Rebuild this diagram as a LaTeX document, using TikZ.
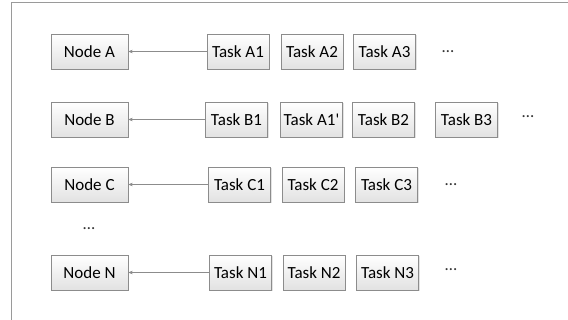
\documentclass[tikz,border=0pt]{standalone}
\usepackage{fontspec}
\setmainfont{Carlito}
\usetikzlibrary{arrows.meta,shadows}

\definecolor{boxline}{HTML}{8C8C8C}
\definecolor{boxbot}{HTML}{E2E2E2}
\definecolor{frameline}{HTML}{9A9A9A}

\begin{document}
\begin{tikzpicture}[
  x=1pt, y=-1pt,
  every node/.style={font=\fontsize{17}{19}\selectfont},
  % grey gradient boxes with a faint shadow
  box/.style={draw=boxline, top color=white, bottom color=boxbot,
    minimum height=35pt, inner sep=2.5pt,
    drop shadow={shadow xshift=1.2pt, shadow yshift=-1.2pt, fill=black!22}},
  nodebox/.style={box, minimum width=77pt},
  taskbox/.style={box, minimum width=62pt},
  more/.style={inner sep=0pt, text=black!80},
  link/.style={draw=boxline, -{Stealth[length=4.5pt,width=3.5pt]}}
]
\useasboundingbox (0,0) rectangle (568,320);
\draw[frameline, line width=0.9pt] (11,320) -- (11,2) -- (568,2);

% row A
\node[nodebox] (nodeA) at (89.5,51.5) {Node A};
\node[taskbox] (taskA1) at (238,51.5) {Task A1};
\node[taskbox] (taskA2) at (312,51.5) {Task A2};
\node[taskbox] (taskA3) at (384.5,51.5) {Task A3};
\node[more] (moreA) at (448,52) {…};

% row B
\node[nodebox] (nodeB) at (89.5,119.5) {Node B};
\node[taskbox] (taskB1) at (236.5,119.5) {Task B1};
\node[taskbox] (taskA1b) at (311.5,119.5) {Task A1\textquotesingle};
\node[taskbox] (taskB2) at (383.5,119.5) {Task B2};
\node[taskbox] (taskB3) at (466.5,119.5) {Task B3};
\node[more] (moreB) at (528,117) {…};

% row C
\node[nodebox] (nodeC) at (89.5,184.5) {Node C};
\node[taskbox] (taskC1) at (239.5,184.5) {Task C1};
\node[taskbox] (taskC2) at (313,184.5) {Task C2};
\node[taskbox] (taskC3) at (386.5,184.5) {Task C3};
\node[more] (moreC) at (451,185) {…};

\node[more] (moreRows) at (89,229) {…};

% row N
\node[nodebox] (nodeN) at (89.5,272.5) {Node N};
\node[taskbox] (taskN1) at (240.5,272.5) {Task N1};
\node[taskbox] (taskN2) at (314,272.5) {Task N2};
\node[taskbox] (taskN3) at (387.5,272.5) {Task N3};
\node[more] (moreN) at (451,270) {…};

\foreach \r in {A,B,C,N}
  \draw[link] (task\r1) -- (node\r);
\end{tikzpicture}
\end{document}
